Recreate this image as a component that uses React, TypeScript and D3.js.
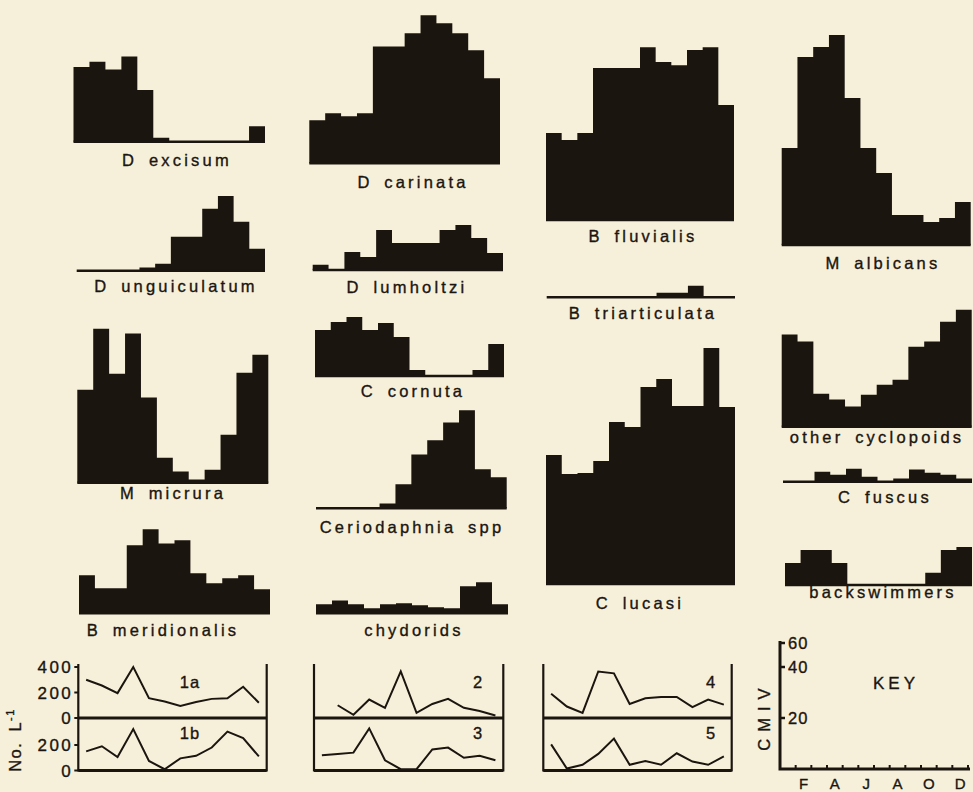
import React from 'react';
import * as d3 from 'd3';

// ---------- data (monthly values, Jan..Dec) ----------
const MONTH_INDEX = [0, 1, 2, 3, 4, 5, 6, 7, 8, 9, 10, 11];
const KEY_MONTH_LABELS = ['F', 'A', 'J', 'A', 'O', 'D'];
const KEY_MONTH_POS = [1, 3, 5, 7, 9, 11];
const KEY_TICKS = [20, 40, 60];

// CMIV values for each taxon
const dExcisum = [29, 31, 28, 33, 20, 1.5, 0, 0, 0, 0, 0, 6];
const dUnguiculatum = [0, 0, 0, 0, 1.2, 2.7, 13.2, 13.2, 24, 29, 19, 8.5];
const dCarinata = [16.7, 19.4, 18.2, 19.4, 45.3, 45.3, 50.4, 57.4, 54.3, 50.4, 43.8, 33];
const dLumholtzi = [2, 0, 7, 5, 15.5, 10.5, 10.5, 10.5, 15.5, 17.4, 12.4, 6.6];
const bFluvialis = [33.7, 31, 33.7, 58.9, 58.9, 58.9, 67, 61.2, 60, 65.9, 67, 44.6];
const bTriarticulata = [0, 0, 0, 0, 0, 0, 0, 1.8, 1.8, 4.5, 0, 0];
const mAlbicans = [37.6, 72.9, 76.7, 81.4, 57, 37.6, 27.9, 11.6, 11.6, 8.9, 10.5, 16.7];
const mMicrura = [36, 59.7, 42.2, 57.8, 33, 9.7, 4.3, 1.2, 5, 18.6, 42.6, 49.6];
const bMeridionalis = [14.7, 9.7, 9.7, 26.4, 32.6, 27.1, 28.3, 15.5, 11.6, 13.6, 14.7, 9.3];
const cCornuta = [17.8, 20.9, 22.9, 17.8, 20.5, 15.1, 2.3, 0, 0, 0, 2.3, 12.4];
const ceriodaphnia = [0, 0, 0, 0, 1.9, 9.3, 20.9, 26.4, 33.3, 38, 15.1, 12];
const chydorids = [3.5, 5, 3.5, 2, 3.5, 3.9, 3.1, 2.3, 2, 10.5, 12, 3.5];
const cLucasi = [50, 42.6, 43, 47.7, 62.8, 60.9, 76.4, 79.5, 69, 69, 91.5, 68.6];
const otherCyclopoids = [35.7, 33, 12.8, 10.5, 7.8, 12.4, 16.3, 18.2, 31, 33, 40.7, 45.3];
const cFuscus = [0, 0, 3.9, 2.7, 5, 1.9, 0, 1.2, 4.7, 3.5, 2.7, 1.2];
const backswimmers = [8.5, 13.6, 13.6, 8.5, 0, 0, 0, 0, 0, 4.7, 13.6, 14.7];

// Total numbers (No. L^-1) at sites
const site1a = [300, 255, 195, 400, 155, 130, 95, 125, 150, 155, 245, 120];
const site1b = [150, 190, 105, 325, 75, 10, 95, 115, 180, 305, 255, 110];
const site2 = [null, 100, 25, 145, 80, 365, 40, 110, 150, 80, 55, 20];
const site3 = [120, 130, 140, 330, 80, 10, 10, 165, 180, 100, 115, 80];
const site4 = [190, 90, 40, 365, 350, 110, 155, 165, 165, 85, 145, 105];
const site5 = [205, 15, 45, 130, 250, 45, 75, 45, 135, 70, 45, 110];
const UPPER_TICKS = [0, 200, 400];
const LOWER_TICKS = [0, 200];

// ---------- styling / layout ----------
const BG = '#f6f0da';
const INK = '#1b1510';
const FONT = '"Liberation Sans", Arial, Helvetica, sans-serif';

const histPanels = [
  { name: 'D excisum', values: dExcisum, x: 73.5, base: 141.7, w: 191.5, lx: 177, ly: 160 },
  { name: 'D unguiculatum', values: dUnguiculatum, x: 76.7, base: 270.7, w: 188.3, lx: 176, ly: 286 },
  { name: 'D carinata', values: dCarinata, x: 309.3, base: 163.3, w: 190.7, lx: 413, ly: 182 },
  { name: 'D lumholtzi', values: dLumholtzi, x: 312.7, base: 270, w: 190.3, lx: 407, ly: 287 },
  { name: 'B fluvialis', values: bFluvialis, x: 546, base: 220, w: 188, lx: 643, ly: 236 },
  { name: 'B triarticulata', values: bTriarticulata, x: 546.7, base: 297.3, w: 188.3, lx: 643, ly: 313 },
  { name: 'M albicans', values: mAlbicans, x: 781.7, base: 245, w: 189, lx: 883, ly: 263 },
  { name: 'M micrura', values: mMicrura, x: 77.3, base: 482.7, w: 191, lx: 173, ly: 493 },
  { name: 'B meridionalis', values: bMeridionalis, x: 79, base: 613.3, w: 191, lx: 163, ly: 630 },
  { name: 'C cornuta', values: cCornuta, x: 315, base: 376, w: 189, lx: 413, ly: 391 },
  { name: 'Ceriodaphnia spp', values: ceriodaphnia, x: 316, base: 508.3, w: 190.7, lx: 412, ly: 527 },
  { name: 'chydorids', values: chydorids, x: 316, base: 613.3, w: 192, lx: 414, ly: 630 },
  { name: 'C lucasi', values: cLucasi, x: 546, base: 584, w: 189, lx: 640, ly: 603 },
  { name: 'other cyclopoids', values: otherCyclopoids, x: 781.7, base: 426.7, w: 190, lx: 877, ly: 437 },
  { name: 'C fuscus', values: cFuscus, x: 783, base: 481.7, w: 189, lx: 885, ly: 497 },
  { name: 'backswimmers', values: backswimmers, x: 785, base: 585, w: 187, lx: 883, ly: 592 },
];

const linePanels = [
  { upper: site1a, lower: site1b, ul: '1a', ll: '1b', left: 78.3, right: 266.7, lblX: 190, axis: true },
  { upper: site2, lower: site3, ul: '2', ll: '3', left: 314, right: 503.3, lblX: 478, axis: false },
  { upper: site4, lower: site5, ul: '4', ll: '5', left: 543.3, right: 731.7, lblX: 711, axis: false },
];

const FRAME_TOP = 664;
const FRAME_MID = 718;
const FRAME_BOT = 770.5;

// CMIV height scale (px per unit), shared with key
const heightScale = d3.scaleLinear().domain([0, 20]).range([0, 51.6]);
const keyY = d3.scaleLinear().domain([0, 20, 40, 60]).range([769, 718, 667, 643]);
const keyX = d3.scaleLinear().domain([0, 12]).range([780, 968]);

const upperY = d3.scaleLinear().domain([0, 400]).range([FRAME_MID, FRAME_MID - 51]);
const lowerY = d3.scaleLinear().domain([0, 400]).range([FRAME_BOT, FRAME_BOT - 51]);

const textProps = {
  fontFamily: FONT,
  fontSize: 16.5,
  fill: INK,
  stroke: INK,
  strokeWidth: 0.35,
  letterSpacing: 3.2,
  wordSpacing: 4,
};

function Histogram({ p }: { p: any }) {
  const x = d3.scaleLinear().domain([0, 12]).range([p.x, p.x + p.w]);
  const data = [...p.values, p.values[p.values.length - 1]];
  const area = d3
    .area<number>()
    .x((_, i) => x(i))
    .y0(p.base)
    .y1((d) => p.base - heightScale(d))
    .curve(d3.curveStepAfter);
  return (
    <g>
      <path d={area(data) || ''} fill={INK} />
      <line x1={x(0)} x2={x(12)} y1={p.base} y2={p.base} stroke={INK} strokeWidth={2.5} />
      <text {...textProps} x={p.lx} y={p.ly + 6} textAnchor="middle">
        {p.name}
      </text>
    </g>
  );
}

function LinePanel({ p }: { p: any }) {
  const x = d3.scaleLinear().domain([0, 12]).range([p.left, p.right]);
  const mk = (ys: any) =>
    d3
      .line<any>()
      .defined((d) => d != null)
      .x((_, i) => x(MONTH_INDEX[i] + 0.5))
      .y((d) => ys(d));
  return (
    <g>
      <line x1={p.left} x2={p.left} y1={FRAME_TOP} y2={FRAME_BOT + 1} stroke={INK} strokeWidth={2.2} />
      <line x1={p.right} x2={p.right} y1={FRAME_TOP} y2={FRAME_BOT + 1} stroke={INK} strokeWidth={2.2} />
      <line x1={p.left} x2={p.right} y1={FRAME_MID} y2={FRAME_MID} stroke={INK} strokeWidth={3} />
      <line x1={p.left} x2={p.right} y1={FRAME_BOT} y2={FRAME_BOT} stroke={INK} strokeWidth={3} />
      <path d={mk(upperY)(p.upper) || ''} fill="none" stroke={INK} strokeWidth={2} strokeLinejoin="miter" />
      <path d={mk(lowerY)(p.lower) || ''} fill="none" stroke={INK} strokeWidth={2} strokeLinejoin="miter" />
      <text {...textProps} x={p.lblX} y={FRAME_TOP + 24} textAnchor="middle" letterSpacing={1}>
        {p.ul}
      </text>
      <text {...textProps} x={p.lblX} y={FRAME_MID + 21} textAnchor="middle" letterSpacing={1}>
        {p.ll}
      </text>
      {p.axis && (
        <g>
          {UPPER_TICKS.map((t) => (
            <g key={'u' + t}>
              <line x1={p.left - 4} x2={p.left} y1={upperY(t)} y2={upperY(t)} stroke={INK} strokeWidth={2} />
              <text {...textProps} fontSize={17} letterSpacing={2.5} x={p.left - 5} y={upperY(t) + 6} textAnchor="end">
                {t}
              </text>
            </g>
          ))}
          {LOWER_TICKS.map((t) => (
            <g key={'l' + t}>
              <line x1={p.left - 4} x2={p.left} y1={lowerY(t)} y2={lowerY(t)} stroke={INK} strokeWidth={2} />
              <text {...textProps} fontSize={17} letterSpacing={2.5} x={p.left - 5} y={lowerY(t) + 6} textAnchor="end">
                {t}
              </text>
            </g>
          ))}
          <text
            {...textProps}
            letterSpacing={1.5}
            transform={`translate(21, 740) rotate(-90)`}
            textAnchor="middle"
          >
            No. L<tspan fontSize={11} dy={-7}>-1</tspan>
          </text>
        </g>
      )}
    </g>
  );
}

function Key() {
  const x0 = keyX(0);
  const y0 = keyY(0);
  const yTop = keyY(60) - 2;
  return (
    <g>
      <path
        d={`M${x0},${yTop} L${x0},${y0} L${keyX(12) + 2},${y0}`}
        fill="none"
        stroke={INK}
        strokeWidth={3}
      />
      {KEY_TICKS.map((t) => (
        <g key={t}>
          <line x1={x0} x2={x0 + 5} y1={keyY(t)} y2={keyY(t)} stroke={INK} strokeWidth={2.5} />
          <text {...textProps} letterSpacing={1} x={x0 + 8} y={keyY(t) + 6}>
            {t}
          </text>
        </g>
      ))}
      {MONTH_INDEX.map((i) => (
        <line key={i} x1={keyX(i + 1)} x2={keyX(i + 1)} y1={y0} y2={y0 - 4} stroke={INK} strokeWidth={2} />
      ))}
      {KEY_MONTH_LABELS.map((m, i) => (
        <text key={i} {...textProps} fontSize={15} letterSpacing={0} x={keyX(KEY_MONTH_POS[i] + 0.5)} y={789} textAnchor="middle">
          {m}
        </text>
      ))}
      <text {...textProps} letterSpacing={7} transform={`translate(770, 716) rotate(-90)`} textAnchor="middle">
        CMIV
      </text>
      <text {...textProps} fontSize={17} letterSpacing={4} x={896} y={689} textAnchor="middle">
        KEY
      </text>
    </g>
  );
}

export default function App() {
  return (
    <svg
      width={973}
      height={792}
      viewBox="0 0 973 792"
      style={{ position: 'absolute', left: 0, top: 0, display: 'block' }}
    >
      <rect x={0} y={0} width={973} height={792} fill={BG} />
      {histPanels.map((p) => (
        <Histogram key={p.name} p={p} />
      ))}
      {linePanels.map((p) => (
        <LinePanel key={p.ul} p={p} />
      ))}
      <Key />
    </svg>
  );
}
